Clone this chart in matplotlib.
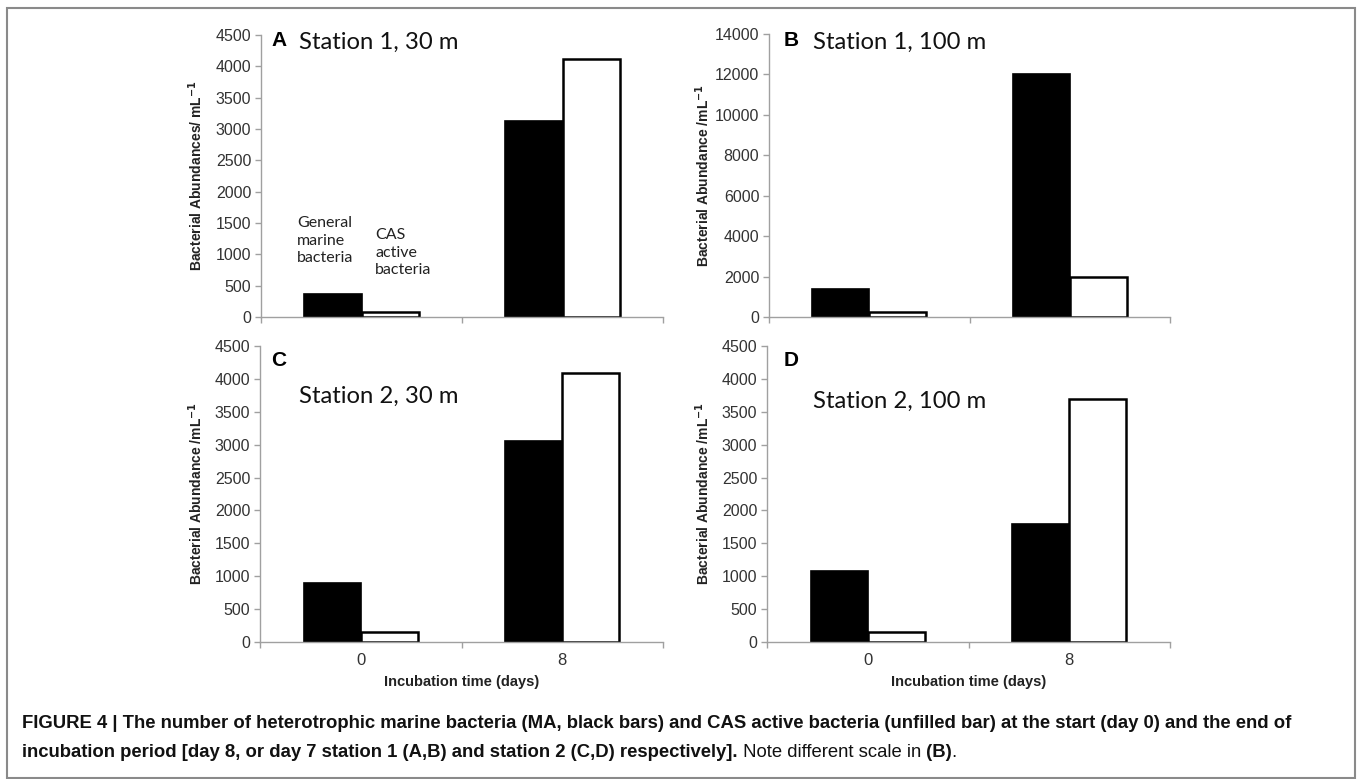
import matplotlib
matplotlib.use("Agg")
import matplotlib.pyplot as plt
from matplotlib.patches import Rectangle

# ---------------- data ----------------
categories = ["0", "8"]
marine_A = [370, 3120]      # Station 1, 30 m (black bars)
cas_A = [75, 4110]          # Station 1, 30 m (unfilled bars)
marine_B = [1370, 12000]    # Station 1, 100 m
cas_B = [250, 2000]
marine_C = [890, 3050]      # Station 2, 30 m
cas_C = [145, 4090]
marine_D = [1080, 1790]     # Station 2, 100 m
cas_D = [145, 3700]

panel_letters = ["A", "B", "C", "D"]
station_titles = ["Station 1, 30 m", "Station 1, 100 m", "Station 2, 30 m", "Station 2, 100 m"]
ylabels = ["Bacterial Abundances/ mL$^{\\mathbf{-1}}$", "Bacterial Abundance /mL$^{\\mathbf{-1}}$",
           "Bacterial Abundance /mL$^{\\mathbf{-1}}$", "Bacterial Abundance /mL$^{\\mathbf{-1}}$"]
ymaxes = [4500, 14000, 4500, 4500]
ysteps = [500, 2000, 500, 500]
xlabel = "Incubation time (days)"

# ---------------- figure ----------------
W, H = 1363, 779
fig = plt.figure(figsize=(W / 100, H / 100), dpi=100)
fig.patch.set_facecolor("white")

def px_axes(x0, y0, x1, y1):
    return fig.add_axes([x0 / W, 1 - y1 / H, (x1 - x0) / W, (y1 - y0) / H])

boxes = [(261, 35, 663, 317), (769, 34, 1170, 317), (260, 346, 663, 642), (767, 346, 1170, 642)]
data = [(marine_A, cas_A), (marine_B, cas_B), (marine_C, cas_C), (marine_D, cas_D)]
ylabel_x = [205, 712, 205, 712]

axis_col = "#a0a0a0"
tick_col = "#333333"
bw = 0.284

for i, (box, (mar, cas)) in enumerate(zip(boxes, data)):
    ax = px_axes(*box)
    x = list(range(len(categories)))
    ax.bar([v - bw / 2 for v in x], mar, width=bw, color="black", edgecolor="black", linewidth=1.2)
    ax.bar([v + bw / 2 for v in x], cas, width=bw, color="white", edgecolor="black", linewidth=1.8)
    ax.set_xlim(-0.5, len(categories) - 0.5)
    ax.set_ylim(0, ymaxes[i])
    ax.set_yticks(range(0, ymaxes[i] + 1, ysteps[i]))
    for s in ["top", "right"]:
        ax.spines[s].set_visible(False)
    for s in ["left", "bottom"]:
        ax.spines[s].set_color(axis_col)
        ax.spines[s].set_linewidth(1.0)
    ax.tick_params(axis="y", direction="out", length=4, width=1.0, color=axis_col,
                   labelsize=11.5, labelcolor=tick_col, pad=3)
    for lab in ax.get_yticklabels():
        lab.set_fontfamily("Liberation Sans")
    # x ticks: boundaries as minor ticks, labels at centres
    ax.set_xticks([-0.5, 0.5, 1.5], minor=True)
    ax.tick_params(axis="x", which="minor", direction="out", length=4, width=1.0, color=axis_col)
    ax.set_xticks(x)
    if i >= 2:
        ax.set_xticklabels(categories, fontsize=12, color=tick_col, fontfamily="Liberation Sans")
        ax.tick_params(axis="x", which="major", length=0, pad=8)
        ax.set_xlabel(xlabel, fontsize=10.5, fontweight="bold", fontfamily="Liberation Sans",
                      color="#222222", labelpad=5)
    else:
        ax.set_xticklabels([])
        ax.tick_params(axis="x", which="major", length=0)
    ax.set_ylabel(ylabels[i], fontsize=10, fontweight="bold", fontfamily="Liberation Sans",
                  color="#222222")
    ax.yaxis.set_label_coords((ylabel_x[i] - box[0]) / (box[2] - box[0]), 0.5)

    # panel letters and station titles (figure pixel coords)
    if i in (0, 1):
        lx, ly = (271, 41) if i == 0 else (784, 41)
        sx, sy = (299, 42) if i == 0 else (813, 42)
    else:
        lx, ly = (271, 360) if i == 2 else (784, 360)
        sx, sy = (299, 396) if i == 2 else (813, 401)
    fig.text(lx / W, 1 - ly / H, panel_letters[i], fontsize=15, fontweight="bold",
             fontfamily="Liberation Sans", va="center", ha="left")
    fig.text(sx / W, 1 - sy / H, station_titles[i], fontsize=17.2, fontfamily="Lato",
             va="center", ha="left", color="#111111")

    if i == 0:
        fig.text(297 / W, 1 - 216 / H, "General\nmarine\nbacteria", fontsize=11.5,
                 fontfamily="Lato", va="top", ha="left", linespacing=1.32, color="#222222")
        fig.text(375 / W, 1 - 228 / H, "CAS\nactive\nbacteria", fontsize=11.5,
                 fontfamily="Lato", va="top", ha="left", linespacing=1.32, color="#222222")

# ---------------- caption ----------------
cap_kw = dict(fontsize=13.3, fontfamily="Liberation Sans", color="#111111")
fig.text(22 / W, 1 - 723 / H,
         "FIGURE 4 | The number of heterotrophic marine bacteria (MA, black bars) and CAS active "
         "bacteria (unfilled bar) at the start (day 0) and the end of",
         fontweight="bold", va="center", ha="left", **cap_kw)
t1 = fig.text(22 / W, 1 - 757 / H,
              "incubation period [day 8, or day 7 station 1 (A,B) and station 2 (C,D) respectively].",
              fontweight="bold", va="baseline", ha="left", **cap_kw)
t2 = fig.text(0, 0, " Note different scale in", fontweight="normal", va="baseline", ha="left", **cap_kw)
t3 = fig.text(0, 0, " (B)", fontweight="bold", va="baseline", ha="left", **cap_kw)
t4 = fig.text(0, 0, ".", fontweight="normal", va="baseline", ha="left", **cap_kw)

# position chained caption segments after layout
fig.canvas.draw()
r = fig.canvas.get_renderer()
prev = t1
for t in (t2, t3, t4):
    bb = prev.get_window_extent(r)
    px, py = prev.get_position()
    t.set_position((bb.x1 / W, py))
    prev = t

# ---------------- outer frame ----------------
fig.patches.append(Rectangle((7 / W, 1 - 778 / H), (1355 - 7) / W, (778 - 8) / H,
                             transform=fig.transFigure, fill=False, edgecolor="#8a8a8a",
                             linewidth=1.5))

fig.savefig("out.png", dpi=100, facecolor="white")
